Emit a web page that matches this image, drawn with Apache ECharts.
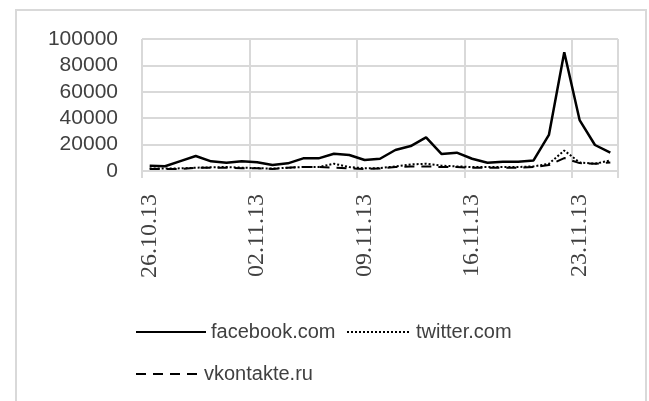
<!DOCTYPE html>
<html><head><meta charset="utf-8">
<script src="https://cdn.jsdelivr.net/npm/echarts@6/dist/echarts.min.js"></script>
<style>html,body{margin:0;padding:0;background:#fff}#c{width:649px;height:401px}</style>
</head><body><div id="c"></div>
<script>
const dates = ['26.10.13','27.10.13','28.10.13','29.10.13','30.10.13','31.10.13','01.11.13','02.11.13','03.11.13','04.11.13','05.11.13','06.11.13','07.11.13','08.11.13','09.11.13','10.11.13','11.11.13','12.11.13','13.11.13','14.11.13','15.11.13','16.11.13','17.11.13','18.11.13','19.11.13','20.11.13','21.11.13','22.11.13','23.11.13','24.11.13','25.11.13'];
const facebook = [4000,3600,7500,11400,7300,6300,7300,6600,4500,5800,9600,9600,13100,12100,8300,9300,15900,18900,25500,12900,13900,9300,6300,7000,7000,8000,27300,89900,38600,19700,13900];
const twitter = [2000,1800,2000,2500,2800,3000,2500,2200,1800,2500,3000,3000,5500,3000,2000,2200,3500,5000,5500,4000,3500,3000,3000,3000,3000,3500,5500,15500,6500,5500,8000];
const vkontakte = [1500,1500,1500,2500,2500,2500,2000,2000,1500,2500,3000,3000,2500,2000,1500,1800,3000,3500,3500,3000,3000,2500,2500,2500,2500,3000,4500,9800,6000,5500,6500];
const yTicks = [0,20000,40000,60000,80000,100000];

const chart = echarts.init(document.getElementById('c'));
const legendText = {fontFamily:'Liberation Sans', fontSize:20, color:'#404040'};
const legendItem = {color:'rgba(0,0,0,0)', borderWidth:0, opacity:0};
chart.setOption({
  animation:false,
  graphic:[{type:'rect', shape:{x:16,y:10,width:630,height:400}, style:{fill:'none', stroke:'#d9d9d9', lineWidth:2}, z:-1}],
  grid:{left:142, right:31, top:39, bottom:230, containLabel:false},
  xAxis:{type:'category', data:dates, boundaryGap:true,
    axisLine:{show:true, lineStyle:{color:'#d9d9d9', width:2}},
    axisTick:{show:true, interval:6, length:7, lineStyle:{color:'#d9d9d9', width:2}},
    splitLine:{show:true, interval:6, lineStyle:{color:'#d9d9d9', width:2}},
    axisLabel:{interval:6, rotate:90, margin:23, fontFamily:'Liberation Serif', fontSize:24, color:'#404040'}
  },
  yAxis:{type:'value', min:yTicks[0], max:yTicks[yTicks.length-1], interval:20000,
    axisLine:{show:false}, axisTick:{show:false},
    splitLine:{lineStyle:{color:'#d9d9d9', width:2}},
    axisLabel:{margin:24, fontFamily:'Liberation Sans', fontSize:21, color:'#404040', formatter:function(v){return String(v);}}
  },
  legend:[
    {data:['facebook.com'], left:130, top:317, itemWidth:70, itemHeight:14, itemGap:0, textStyle:legendText, itemStyle:legendItem},
    {data:['twitter.com'], left:341, top:317, itemWidth:64, itemHeight:14, itemGap:0, textStyle:legendText, itemStyle:legendItem},
    {data:['vkontakte.ru'], left:130, top:359, itemWidth:63, itemHeight:14, itemGap:0, textStyle:legendText, itemStyle:legendItem}
  ],
  series:[
    {name:'facebook.com', type:'line', data:facebook, symbol:'none', lineStyle:{color:'#000', width:2.5, type:'solid'}, itemStyle:{color:'#000'}, z:3},
    {name:'twitter.com', type:'line', data:twitter, symbol:'none', lineStyle:{color:'#000', width:2, type:[2,2]}, itemStyle:{color:'#000'}, z:2},
    {name:'vkontakte.ru', type:'line', data:vkontakte, symbol:'none', lineStyle:{color:'#000', width:2, type:[10,7]}, itemStyle:{color:'#000'}, z:2}
  ]
});
</script></body></html>
